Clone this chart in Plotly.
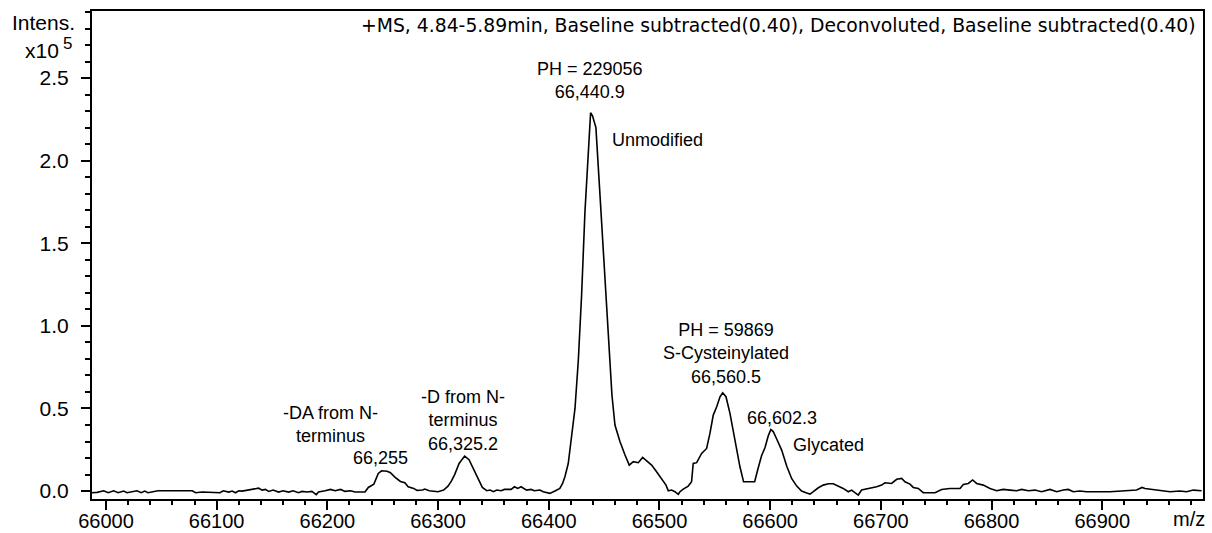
import plotly.graph_objects as go

# m/z values and intensities (x10^5)
mass = [
    65987, 65992, 65998, 66002, 66007, 66011, 66016, 66019, 66028, 66032,
    66035, 66038, 66047, 66078, 66081, 66087, 66103, 66106, 66111, 66114,
    66117, 66120, 66123, 66129, 66138, 66141, 66144, 66147, 66151, 66156,
    66160, 66165, 66169, 66174, 66177, 66182, 66186, 66190, 66192, 66198,
    66203, 66207, 66212, 66216, 66221, 66225, 66234, 66237, 66242, 66246,
    66249, 66254, 66257, 66261, 66266, 66270, 66273, 66278, 66281, 66286,
    66288, 66292, 66300, 66305, 66309, 66312, 66315, 66319, 66324, 66328,
    66332, 66336, 66340, 66344, 66347, 66350, 66353, 66357, 66360, 66366,
    66369, 66372, 66375, 66380, 66384, 66387, 66392, 66395, 66398, 66401,
    66406, 66410, 66412.5, 66414.6, 66417.6, 66419.5, 66421.5, 66423.7, 66426.7, 66429.7,
    66432.7, 66435.7, 66437.8, 66439.6, 66442.6, 66446.3, 66449.9, 66453.5, 66457.1, 66459.8,
    66464.3, 66468.8, 66472.7, 66476.4, 66480.9, 66484.8, 66488.4, 66492.9, 66497.4, 66502.0,
    66505.9, 66508.0, 66511.0, 66514.0, 66517.0, 66518.5, 66521.5, 66526.0, 66529.0, 66530.5,
    66533.6, 66538.1, 66542.6, 66545.6, 66548.6, 66551.7, 66554.7, 66557.1, 66560.1, 66563.7,
    66566.7, 66569.7, 66572.7, 66576.0, 66586.0, 66589.0, 66592.3, 66595.3, 66598.3, 66600.6,
    66602.8, 66605.9, 66610.4, 66615.0, 66619.5, 66624.0, 66628.4, 66633.0, 66636.0, 66639.0,
    66643.5, 66648.0, 66652.5, 66657.0, 66661.5, 66666.0, 66670.6, 66673.6, 66676.6, 66679.6,
    66682.6, 66687.2, 66691.7, 66696.2, 66700.7, 66703.7, 66709.7, 66714.3, 66718.8, 66721.8,
    66726.3, 66729.3, 66733.8, 66738.3, 66748.9, 66754.9, 66762.4, 66771.5, 66774.5, 66779.0,
    66782.9, 66786.5, 66792.5, 66798.6, 66804.6, 66810.6, 66816.6, 66822.7, 66827.2, 66833.2,
    66839.2, 66845.2, 66852.8, 66858.8, 66864.8, 66869.3, 66873.8, 66879.9, 66885.9, 66900.9,
    66907.0, 66931.0, 66936.0, 66938.6, 66946.1, 66955.1, 66961.2, 66970.2, 66976.2, 66982.2,
    66989.8,
]
intensity = [
    -0.010, -0.008, 0.002, -0.010, 0.002, -0.010, 0.000, -0.010, 0.002, -0.010,
    0.000, -0.010, 0.002, 0.002, -0.010, -0.006, -0.010, 0.002, -0.006, 0.000,
    -0.010, 0.002, 0.000, 0.006, 0.018, 0.006, 0.010, -0.002, 0.006, -0.006,
    0.002, -0.006, 0.002, -0.010, -0.002, -0.006, -0.002, -0.022, -0.006, 0.002,
    0.010, 0.002, 0.010, -0.002, 0.002, -0.006, -0.006, 0.022, 0.042, 0.107,
    0.123, 0.120, 0.111, 0.085, 0.058, 0.050, 0.026, 0.016, 0.004, 0.006,
    0.012, 0.002, -0.004, 0.006, 0.030, 0.060, 0.100, 0.167, 0.212, 0.190,
    0.137, 0.077, 0.022, 0.002, 0.006, -0.004, 0.006, 0.002, 0.010, 0.010,
    0.026, 0.016, 0.026, 0.006, 0.010, 0.002, 0.006, -0.004, -0.010, -0.014,
    0.002, 0.016, 0.046, 0.087, 0.167, 0.270, 0.400, 0.500, 0.790, 1.190,
    1.690, 2.090, 2.290, 2.270, 2.200, 1.790, 1.370, 0.940, 0.580, 0.400,
    0.300, 0.220, 0.157, 0.178, 0.172, 0.204, 0.184, 0.157, 0.117, 0.077,
    0.036, 0.002, 0.006, -0.004, -0.020, -0.004, 0.012, 0.030, 0.056, 0.167,
    0.172, 0.228, 0.258, 0.349, 0.460, 0.510, 0.571, 0.595, 0.571, 0.470,
    0.355, 0.248, 0.147, 0.056, 0.056, 0.135, 0.215, 0.262, 0.335, 0.372,
    0.360, 0.315, 0.248, 0.150, 0.075, 0.030, 0.000, -0.012, -0.018, -0.004,
    0.020, 0.036, 0.044, 0.044, 0.030, 0.016, -0.004, 0.006, -0.010, -0.024,
    0.006, 0.012, 0.022, 0.026, 0.036, 0.050, 0.046, 0.071, 0.077, 0.056,
    0.042, 0.022, 0.016, -0.010, -0.010, 0.010, 0.016, 0.016, 0.040, 0.046,
    0.067, 0.046, 0.036, 0.016, 0.002, 0.010, 0.006, 0.002, 0.010, 0.002,
    0.006, -0.004, 0.010, -0.004, 0.006, 0.010, -0.004, 0.000, -0.004, -0.004,
    -0.004, 0.006, 0.022, 0.016, 0.010, 0.002, -0.004, 0.000, -0.004, 0.006,
    0.002,
]

# peak annotations: (text, m/z, intensity)
peak_labels = [
    ("PH = 229056<br>66,440.9", 66437.2, 2.485),
    ("Unmodified", 66498.2, 2.125),
    ("PH = 59869<br>S-Cysteinylated<br>66,560.5", 66560.0, 0.835),
    ("66,602.3", 66610.3, 0.445),
    ("Glycated", 66652.5, 0.278),
    ("-DA from N-<br>terminus", 66203.0, 0.400),
    ("66,255", 66248.4, 0.200),
    ("-D from N-<br>terminus<br>66,325.2", 66322.5, 0.427),
]

header = "+MS, 4.84-5.89min, Baseline subtracted(0.40), Deconvoluted, Baseline subtracted(0.40)"

FONT = "Liberation Sans, Arial, sans-serif"

fig = go.Figure()
fig.add_trace(go.Scatter(
    x=mass, y=intensity, mode="lines",
    line=dict(color="black", width=1.6),
    showlegend=False, hoverinfo="skip",
))

axis_common = dict(
    showline=True, linecolor="black", linewidth=2, mirror=True,
    ticks="outside", tickcolor="black", tickwidth=2,
    showgrid=False, zeroline=False, automargin=False,
)

fig.update_xaxes(
    range=[65987.4, 66991], tick0=66000, dtick=100, ticklen=9, tickformat="d",
    ticklabelstandoff=-6,
    tickfont=dict(family=FONT, size=20, color="black"),
    minor=dict(dtick=20, tick0=66000, ticklen=4, tickwidth=2, tickcolor="black", ticks="outside"),
    **axis_common,
)
fig.update_yaxes(
    range=[-0.048, 2.906], tick0=0, dtick=0.5, tickformat=".1f", ticklen=9,
    ticklabelstandoff=8,
    tickfont=dict(family=FONT, size=21, color="black"),
    minor=dict(dtick=0.1, tick0=0, ticklen=5, tickwidth=2, tickcolor="black", ticks="outside"),
    **axis_common,
)

for text, xm, yi in peak_labels:
    fig.add_annotation(
        text=text, x=xm, y=yi, xref="x", yref="y", showarrow=False,
        xanchor="center", yanchor="middle", align="center",
        font=dict(family=FONT, size=18, color="black"),
    )

fig.add_annotation(
    text=header, x=0.9955, y=0.9713, xref="paper", yref="paper", showarrow=False,
    xanchor="right", yanchor="middle",
    font=dict(family="DejaVu Sans, sans-serif", size=18.8, color="black"),
)
fig.add_annotation(
    text="Intens.", x=-0.0441, y=0.977, xref="paper", yref="paper", showarrow=False,
    xanchor="center", yanchor="middle", font=dict(family=FONT, size=21, color="black"),
)
fig.add_annotation(
    text="x10", x=-0.0279, y=0.920, xref="paper", yref="paper", showarrow=False,
    xanchor="right", yanchor="middle", font=dict(family=FONT, size=21, color="black"),
)
fig.add_annotation(
    text="5", x=-0.0279, y=0.934, xref="paper", yref="paper", showarrow=False,
    xanchor="left", yanchor="middle", font=dict(family=FONT, size=17, color="black"),
)
fig.add_annotation(
    text="m/z", x=0.9874, y=-0.042, xref="paper", yref="paper", showarrow=False,
    xanchor="center", yanchor="middle", font=dict(family=FONT, size=20, color="black"),
)

fig.update_layout(
    width=1212, height=533,
    margin=dict(l=92, r=9, t=11, b=34, autoexpand=False),
    paper_bgcolor="white", plot_bgcolor="white",
)

fig.write_html("out.html")
